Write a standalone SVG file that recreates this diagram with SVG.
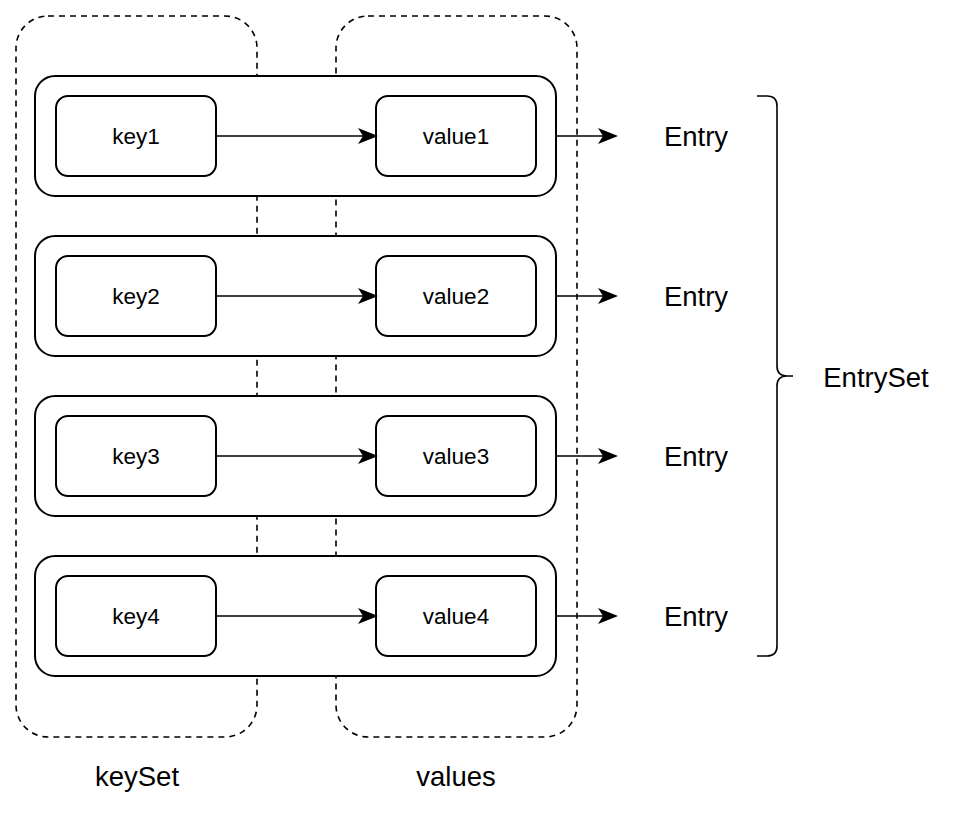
<svg xmlns="http://www.w3.org/2000/svg" width="974" height="834" viewBox="0 0 974 834">
<style>
.dash{fill:none;stroke:#000;stroke-width:1.6;stroke-dasharray:6 5}
.box{fill:#fff;stroke:#000;stroke-width:2}
.ln{fill:none;stroke:#000;stroke-width:1.6}
.t{font-family:"Liberation Sans",Arial,sans-serif;fill:#000;text-anchor:middle;dominant-baseline:central}
.s{font-size:22.5px}
.b{font-size:27.5px}
</style>
<defs>
<marker id="ah" viewBox="0 0 20 16" refX="18" refY="8" markerWidth="20" markerHeight="16" markerUnits="userSpaceOnUse" orient="auto">
<path d="M0,0 L20,8 L0,16 L5,8 Z" fill="#000"/>
</marker>
</defs>
<rect width="974" height="834" fill="#fff"/>
<g id="keySet">
<rect class="dash" x="16" y="16" width="241" height="721" rx="32"/>
<text class="t b" x="137" y="776">keySet</text>
</g>
<g id="values">
<rect class="dash" x="336" y="16" width="241" height="721" rx="32"/>
<text class="t b" x="456" y="776">values</text>
</g>
<g id="entry1">
<rect class="box" x="35" y="76" width="521" height="120" rx="20"/>
<rect class="box" x="56" y="96" width="160" height="80" rx="12"/>
<text class="t s" x="136" y="136">key1</text>
<rect class="box" x="376" y="96" width="160" height="80" rx="12"/>
<text class="t s" x="456" y="136">value1</text>
<text class="t b" x="696" y="136">Entry</text>
</g>
<g id="entry2">
<rect class="box" x="35" y="236" width="521" height="120" rx="20"/>
<rect class="box" x="56" y="256" width="160" height="80" rx="12"/>
<text class="t s" x="136" y="296">key2</text>
<rect class="box" x="376" y="256" width="160" height="80" rx="12"/>
<text class="t s" x="456" y="296">value2</text>
<text class="t b" x="696" y="296">Entry</text>
</g>
<g id="entry3">
<rect class="box" x="35" y="396" width="521" height="120" rx="20"/>
<rect class="box" x="56" y="416" width="160" height="80" rx="12"/>
<text class="t s" x="136" y="456">key3</text>
<rect class="box" x="376" y="416" width="160" height="80" rx="12"/>
<text class="t s" x="456" y="456">value3</text>
<text class="t b" x="696" y="456">Entry</text>
</g>
<g id="entry4">
<rect class="box" x="35" y="556" width="521" height="120" rx="20"/>
<rect class="box" x="56" y="576" width="160" height="80" rx="12"/>
<text class="t s" x="136" y="616">key4</text>
<rect class="box" x="376" y="576" width="160" height="80" rx="12"/>
<text class="t s" x="456" y="616">value4</text>
<text class="t b" x="696" y="616">Entry</text>
</g>
<g id="entrySet">
<path class="ln" d="M757,96 H767 Q777,96 777,106 V366 Q777,376 787,376 H793 M787,376 Q777,376 777,386 V646 Q777,656 767,656 H757"/>
<text class="t b" x="876" y="377">EntrySet</text>
</g>
<g id="connectors">
<line class="ln" x1="216" y1="136" x2="376" y2="136" marker-end="url(#ah)"/>
<line class="ln" x1="216" y1="296" x2="376" y2="296" marker-end="url(#ah)"/>
<line class="ln" x1="216" y1="456" x2="376" y2="456" marker-end="url(#ah)"/>
<line class="ln" x1="216" y1="616" x2="376" y2="616" marker-end="url(#ah)"/>
<line class="ln" x1="556" y1="136" x2="616" y2="136" marker-end="url(#ah)"/>
<line class="ln" x1="556" y1="296" x2="616" y2="296" marker-end="url(#ah)"/>
<line class="ln" x1="556" y1="456" x2="616" y2="456" marker-end="url(#ah)"/>
<line class="ln" x1="556" y1="616" x2="616" y2="616" marker-end="url(#ah)"/>
</g>
</svg>
